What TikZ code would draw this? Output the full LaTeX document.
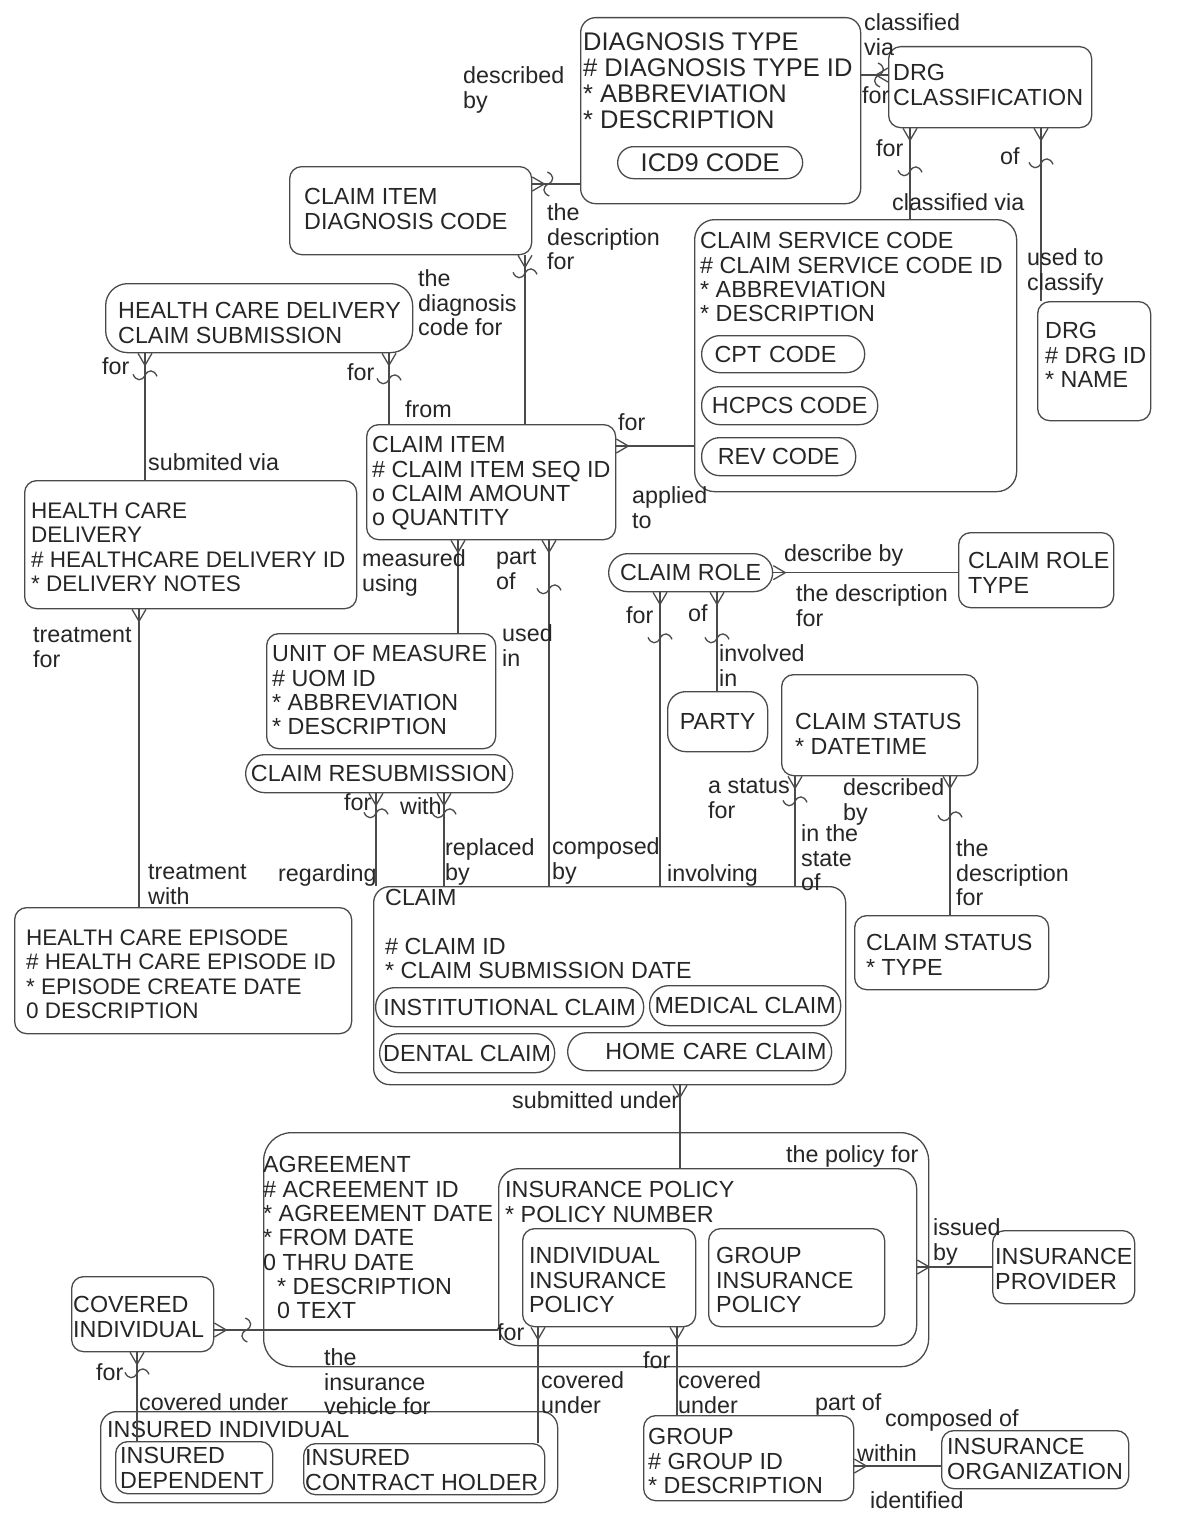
\documentclass[tikz,border=0pt]{standalone}
\usepackage{fontspec}
\setmainfont{Liberation Sans}
\usetikzlibrary{calc}
\definecolor{ln}{HTML}{4A4A4A}
\definecolor{tx}{HTML}{262626}
\newcommand\ef{\fontsize{23.3}{24.3}\selectfont}
\newcommand\bigef{\fontsize{25.5}{26}\selectfont}
\newcommand\smef{\fontsize{22.5}{24.3}\selectfont}
\newcommand\lf{\fontsize{23.3}{24.5}\selectfont}
\newcommand\ebx[6][12pt]{\node[ent, rounded corners=#1, minimum width=#5pt, minimum height=#6pt] (#2) at (#3,#4) {};}
\tikzset{
 conn/.style={draw=ln, line width=1.3pt},
 ent/.style={draw=ln, line width=1.3pt, anchor=north west, inner sep=0pt},
 pillbox/.style={draw=ln, line width=1.3pt, rounded corners=#1, anchor=north west, inner sep=0pt, font=\ef, text=tx},
 pillbox/.default=18pt,
 txt/.style={anchor=north west, inner sep=0pt, align=left, font=\ef, text=tx},
 lbl/.style={anchor=north west, inner sep=0pt, align=left, font=\lf, text=tx},
 crowS/.pic={\draw[conn] (-7,0) -- (0,12) -- (7,0);},
 crowE/.pic={\draw[conn] (0,-7) -- (12,0) -- (0,7);},
 crowW/.pic={\draw[conn] (0,-7) -- (-12,0) -- (0,7);},
 sqV/.pic={\draw[conn] (-12,-1) .. controls (-9,6) and (-3,6) .. (0,0) .. controls (3,-6) and (9,-6) .. (12,1);},
 sqH/.pic={\draw[conn] (-1,-12) .. controls (6,-9) and (6,-3) .. (0,0) .. controls (-6,3) and (-6,9) .. (1,12);}
}
\begin{document}
\begin{tikzpicture}[x=1pt,y=-1pt]
\fill[white] (0,0) rectangle (1200,1520);
\useasboundingbox (0,0) rectangle (1200,1520);

% ---------- entities ----------
\ebx[15pt]{dt}{580}{17}{280}{186}
\node[txt, font=\bigef] (dtt) at (583,32.7) {DIAGNOSIS TYPE\\\# DIAGNOSIS TYPE ID\\* ABBREVIATION\\* DESCRIPTION};
\node[pillbox=16pt, font=\bigef, minimum width=185pt, minimum height=32pt] (icd) at (617,146) {ICD9 CODE};

\ebx{dct}{888}{46}{203}{81}
\node[txt] (dctt) at (893,64.5) {DRG\\CLASSIFICATION};

\ebx{cidc}{289}{166}{242}{88}
\node[txt] (cidct) at (304,188.5) {CLAIM ITEM\\DIAGNOSIS CODE};

\ebx[20pt]{csc}{694}{219}{322}{272}
\node[txt] (csct) at (700,232.5) {CLAIM SERVICE CODE\\\# CLAIM SERVICE CODE ID\\* ABBREVIATION\\* DESCRIPTION};
\node[pillbox, minimum height=37pt, text width=137pt, inner xsep=13pt, align=left] (cpt) at (701,335) {CPT CODE};
\node[pillbox, minimum width=176pt, minimum height=38pt] (hcp) at (701,386) {HCPCS CODE};
\node[pillbox, minimum width=154pt, minimum height=38pt] (rev) at (701,437) {REV CODE};

\ebx{drg}{1037}{301}{113}{119}
\node[txt] (drgt) at (1045,322.5) {DRG\\\# DRG ID\\* NAME};

\ebx[22pt]{hcdcs}{105}{283}{307}{69}
\node[txt] (hcdcst) at (118,302.5) {HEALTH CARE DELIVERY\\CLAIM SUBMISSION};

\ebx{hcd}{24}{480}{332}{128}
\node[txt, font=\smef] (hcdt) at (31,502.5) {HEALTH CARE\\DELIVERY\\\# HEALTHCARE DELIVERY ID\\* DELIVERY NOTES};

\ebx{ci}{366}{424}{249}{115}
\node[txt] (cit) at (372,436.5) {CLAIM ITEM\\\# CLAIM ITEM SEQ ID\\o CLAIM AMOUNT\\o QUANTITY};

\node[pillbox=19pt, minimum width=164pt, minimum height=38pt] (crole) at (608,553) {CLAIM ROLE};

\ebx{crt}{958}{532}{155}{75}
\node[txt] (crtt) at (968,552.5) {CLAIM ROLE\\TYPE};

\ebx{uom}{266}{633}{229}{115}
\node[txt] (uomt) at (272,645.5) {UNIT OF MEASURE\\\# UOM ID\\* ABBREVIATION\\* DESCRIPTION};

\node[pillbox=18pt, minimum width=100pt, minimum height=60pt] (party) at (667,691) {PARTY};

\ebx{cst}{781}{674}{196}{101}
\node[txt] (cstt) at (795,713.5) {CLAIM STATUS\\* DATETIME};

\node[pillbox=19pt, minimum width=267pt, minimum height=38pt] (cres) at (245,754) {CLAIM RESUBMISSION};

\ebx[16pt]{cl}{373}{886}{472}{198}
\node[txt] (clt) at (385,889.5) {CLAIM\\[24.3pt]\# CLAIM ID\\* CLAIM SUBMISSION DATE};
\node[pillbox=19pt, minimum width=268pt, minimum height=39pt] (inst) at (375,987) {INSTITUTIONAL CLAIM};
\node[pillbox=19pt, minimum width=191pt, minimum height=40pt] (med) at (649,985) {MEDICAL CLAIM};
\node[pillbox=19pt, minimum width=175pt, minimum height=39pt] (dent) at (379,1033) {DENTAL CLAIM};
\node[pillbox=19pt, minimum height=38pt, text width=254pt, inner xsep=5pt, align=right] (home) at (567,1032) {HOME CARE CLAIM};

\ebx{hce}{14}{907}{337}{126}
\node[txt, font=\smef] (hcet) at (26,929.5) {HEALTH CARE EPISODE\\\# HEALTH CARE EPISODE ID\\* EPISODE CREATE DATE\\0 DESCRIPTION};

\ebx{cstp}{854}{915}{194}{74}
\node[txt] (cstpt) at (866,934.5) {CLAIM STATUS\\* TYPE};

\ebx[28pt]{agr}{263}{1132}{665}{234}
\node[txt] (agrt) at (263,1156.5) {AGREEMENT\\\# ACREEMENT ID\\* AGREEMENT DATE\\* FROM DATE\\0 THRU DATE\\\hspace*{14pt}* DESCRIPTION\\\hspace*{14pt}0 TEXT};

\ebx[20pt]{ip}{498}{1168}{418}{177}
\node[txt] (ipt) at (505,1181.5) {INSURANCE POLICY\\* POLICY NUMBER};
\ebx{iip}{522}{1228}{173}{98}
\node[txt] (iipt) at (529,1247.5) {INDIVIDUAL\\INSURANCE\\POLICY};
\ebx{gip}{708}{1228}{176}{98}
\node[txt] (gipt) at (716,1247.5) {GROUP\\INSURANCE\\POLICY};

\ebx{ipr}{992}{1230}{142}{73}
\node[txt] (iprt) at (995,1248.5) {INSURANCE\\PROVIDER};

\ebx{cov}{71}{1276}{142}{75}
\node[txt] (covt) at (73,1296.5) {COVERED\\INDIVIDUAL};

\ebx[16pt]{ins}{100}{1411}{457}{91}
\node[txt] (inst2) at (107,1421.5) {INSURED INDIVIDUAL};
\ebx{idep}{115}{1441}{157}{52}
\node[txt] (idept) at (120,1447.5) {INSURED\\DEPENDENT};
\ebx{ich}{303}{1443}{241}{51}
\node[txt] (icht) at (305,1449.5) {INSURED\\CONTRACT HOLDER};

\ebx{grp}{643}{1415}{210}{85}
\node[txt] (grpt) at (648,1428.5) {GROUP\\\# GROUP ID\\* DESCRIPTION};

\ebx{iorg}{941}{1430}{187}{58}
\node[txt] (iorgt) at (947,1438.5) {INSURANCE\\ORGANIZATION};

% ---------- connectors ----------
% C1 diagnosis type - drg classification
\draw[conn] (dt.east |- 0,75) -- (dct.west |- 0,75);
\pic at (dct.west |- 0,75) {crowW};
\pic at ($(dct.west |- 0,75)+(-9,0)$) {sqH};
% C2
\draw[conn] (dct.south -| 910,0) -- (csc.north -| 910,0);
\pic at (dct.south -| 910,0) {crowS};
\pic at ($(dct.south -| 910,0)+(0,43)$) {sqV};
% C3
\draw[conn] (dct.south -| 1041,0) -- (drg.north -| 1041,0);
\pic at (dct.south -| 1041,0) {crowS};
\pic at ($(dct.south -| 1041,0)+(0,35)$) {sqV};
% C4
\draw[conn] (cidc.east |- 0,184) -- (dt.west |- 0,184);
\pic at (cidc.east |- 0,184) {crowE};
\pic at ($(cidc.east |- 0,184)+(16,0)$) {sqH};
% C5
\draw[conn] (cidc.south -| 525,0) -- (ci.north -| 525,0);
\pic at (cidc.south -| 525,0) {crowS};
\pic at ($(cidc.south -| 525,0)+(0,18)$) {sqV};
% C6
\draw[conn] (hcdcs.south -| 145,0) -- (hcd.north -| 145,0);
\pic at (hcdcs.south -| 145,0) {crowS};
\pic at ($(hcdcs.south -| 145,0)+(0,22)$) {sqV};
% C7
\draw[conn] (hcdcs.south -| 389,0) -- (ci.north -| 389,0);
\pic at (hcdcs.south -| 389,0) {crowS};
\pic at ($(hcdcs.south -| 389,0)+(0,26)$) {sqV};
% C8
\draw[conn] (ci.east |- 0,446) -- (csc.west |- 0,446);
\pic at (ci.east |- 0,446) {crowE};
% C9
\draw[conn] (ci.south -| 458,0) -- (uom.north -| 458,0);
\pic at (ci.south -| 458,0) {crowS};
% C10
\draw[conn] (ci.south -| 549,0) -- (cl.north -| 549,0);
\pic at (ci.south -| 549,0) {crowS};
\pic at ($(ci.south -| 549,0)+(0,49)$) {sqV};
% C11
\draw[conn] (hcd.south -| 139,0) -- (hce.north -| 139,0);
\pic at (hcd.south -| 139,0) {crowS};
% C12
\draw[conn] (crole.east) -- (crt.west |- crole.east);
\pic at (crole.east) {crowE};
% C13
\draw[conn] (crole.south -| 660,0) -- (cl.north -| 660,0);
\pic at (crole.south -| 660,0) {crowS};
\pic at ($(crole.south -| 660,0)+(0,46)$) {sqV};
% C14
\draw[conn] (crole.south -| 717,0) -- (party.north -| 717,0);
\pic at (crole.south -| 717,0) {crowS};
\pic at ($(crole.south -| 717,0)+(0,46)$) {sqV};
% C15
\draw[conn] (cst.south -| 795,0) -- (cl.north -| 795,0);
\pic at (cst.south -| 795,0) {crowS};
\pic at ($(cst.south -| 795,0)+(0,25)$) {sqV};
% C16
\draw[conn] (cst.south -| 950,0) -- (cstp.north -| 950,0);
\pic at (cst.south -| 950,0) {crowS};
\pic at ($(cst.south -| 950,0)+(0,40)$) {sqV};
% C17
\draw[conn] (cres.south -| 376,0) -- (cl.north -| 376,0);
\pic at (cres.south -| 376,0) {crowS};
\pic at ($(cres.south -| 376,0)+(0,20)$) {sqV};
% C18
\draw[conn] (cres.south -| 444,0) -- (cl.north -| 444,0);
\pic at (cres.south -| 444,0) {crowS};
\pic at ($(cres.south -| 444,0)+(0,20)$) {sqV};
% C19
\draw[conn] (cl.south -| 680,0) -- (ip.north -| 680,0);
\pic at (cl.south -| 680,0) {crowS};
% C20
\draw[conn] (ip.east |- 0,1267) -- (ipr.west |- 0,1267);
\pic at (ip.east |- 0,1267) {crowE};
% C21
\draw[conn] (cov.east |- 0,1330) -- (ip.west |- 0,1330);
\pic at (cov.east |- 0,1330) {crowE};
\pic at ($(cov.east |- 0,1330)+(32,0)$) {sqH};
% C22
\draw[conn] (cov.south -| 137,0) -- (idep.north -| 137,0);
\pic at (cov.south -| 137,0) {crowS};
\pic at ($(cov.south -| 137,0)+(0,21)$) {sqV};
% C23
\draw[conn] (iip.south -| 538,0) -- (ich.north -| 538,0);
\pic at (iip.south -| 538,0) {crowS};
% C24
\draw[conn] (iip.south -| 677,0) -- (grp.north -| 677,0);
\pic at (iip.south -| 677,0) {crowS};
% C25
\draw[conn] (grp.east |- 0,1466) -- (iorg.west |- 0,1466);
\pic at (grp.east |- 0,1466) {crowE};

% ---------- labels ----------
\node[lbl] (l1) at (463,66.5) {described\\by};
\node[lbl] (l2) at (864,13.5) {classified\\via};
\node[lbl] (l3) at (862,86.5) {for};
\node[lbl] (l4) at (547,203.5) {the\\description\\for};
\node[lbl] (l5) at (876,139.5) {for};
\node[lbl] (l6) at (1000,147.5) {of};
\node[lbl] (l7) at (892,193.5) {classified via};
\node[lbl] (l8) at (1027,248.5) {used to\\classify};
\node[lbl] (l9) at (418,269.5) {the\\diagnosis\\code for};
\node[lbl] (l10) at (102,357.5) {for};
\node[lbl] (l11) at (347,363.5) {for};
\node[lbl] (l12) at (405,400.5) {from};
\node[lbl] (l13) at (618,413.5) {for};
\node[lbl] (l14) at (148,453.5) {submited via};
\node[lbl] (l15) at (632,486.5) {applied\\to};
\node[lbl] (l16) at (362,549.5) {measured\\using};
\node[lbl] (l17) at (496,549.5) {part\\of};
\node[lbl] (l18) at (784,544.5) {describe by};
\node[lbl] (l19) at (796,584.5) {the description\\for};
\node[lbl] (l20) at (626,606.5) {for};
\node[lbl] (l21) at (688,604.5) {of};
\node[lbl] (l22) at (33,627.5) {treatment\\for};
\node[lbl] (l23) at (502,624.5) {used\\in};
\node[lbl] (l24) at (719,644.5) {involved\\in};
\node[lbl] (l25) at (708,778.5) {a status\\for};
\node[lbl] (l26) at (843,778.5) {described\\by};
\node[lbl] (l27) at (344,793.5) {for};
\node[lbl] (l28) at (400,797.5) {with};
\node[lbl] (l29) at (801,824.5) {in the\\state\\of};
\node[lbl] (l30) at (445,838.5) {replaced\\by};
\node[lbl] (l31) at (552,837.5) {composed\\by};
\node[lbl] (l32) at (956,839.5) {the\\description\\for};
\node[lbl] (l33) at (148,864.5) {treatment\\with};
\node[lbl] (l34) at (278,864.5) {regarding};
\node[lbl] (l35) at (667,864.5) {involving};
\node[lbl] (l36) at (512,1091.5) {submitted under};
\node[lbl] (l37) at (786,1145.5) {the policy for};
\node[lbl] (l38) at (933,1218.5) {issued\\by};
\node[lbl] (l39) at (497,1323.5) {for};
\node[lbl] (l40) at (324,1348.5) {the\\insurance\\vehicle for};
\node[lbl] (l41) at (643,1351.5) {for};
\node[lbl] (l42) at (96,1363.5) {for};
\node[lbl] (l43) at (541,1371.5) {covered\\under};
\node[lbl] (l44) at (678,1371.5) {covered\\under};
\node[lbl] (l45) at (139,1393.5) {covered under};
\node[lbl] (l46) at (815,1393.5) {part of};
\node[lbl] (l47) at (885,1409.5) {composed of};
\node[lbl] (l48) at (857,1444.5) {within};
\node[lbl] (l49) at (870,1491.5) {identified};
\end{tikzpicture}
\end{document}
